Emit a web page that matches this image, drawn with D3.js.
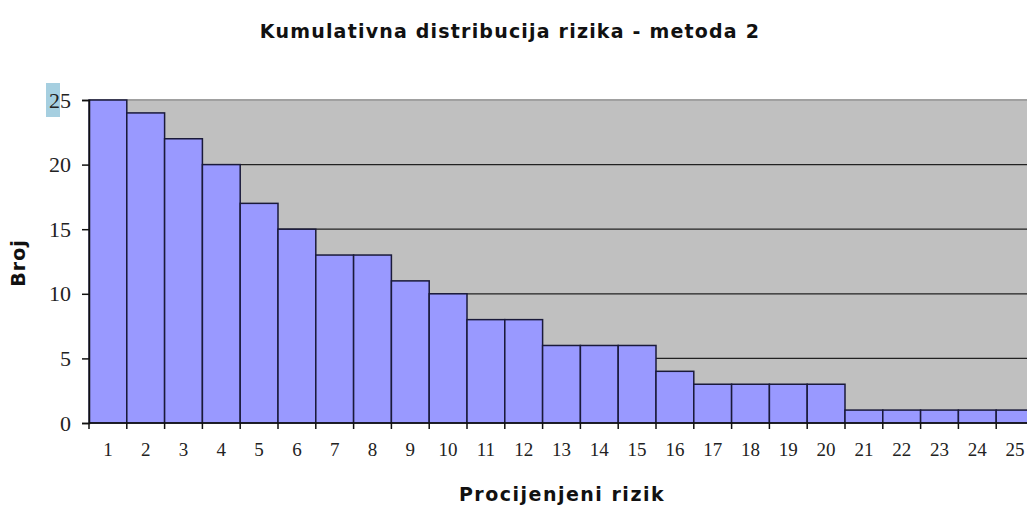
<!DOCTYPE html>
<html>
<head>
<meta charset="utf-8">
<script src="https://cdn.jsdelivr.net/npm/d3@7"></script>
<style>
  body { margin: 0; background: #fff; overflow: hidden; }
</style>
</head>
<body>
<script>
// Data
var categories = d3.range(1, 26).map(String);
var counts = [25, 24, 22, 20, 17, 15, 13, 13, 11, 10, 8, 8, 6, 6, 6, 4, 3, 3, 3, 3, 1, 1, 1, 1, 1];
var yTicks = [0, 5, 10, 15, 20, 25];

function drawChart(){

  var W = 1027, H = 506;
  var pLeft = 89, pRight = 1034, pTop = 100, pBottom = 423;

  var svg = d3.select("body").append("svg")
      .attr("width", W)
      .attr("height", H);

  var x = d3.scaleBand()
      .domain(categories)
      .range([pLeft, pRight])
      .padding(0);

  var y = d3.scaleLinear()
      .domain([0, 25])
      .range([pBottom, pTop]);

  // plot background
  svg.append("rect")
      .attr("x", pLeft).attr("y", pTop)
      .attr("width", pRight - pLeft).attr("height", pBottom - pTop)
      .attr("fill", "#c0c0c0");

  // top border of plot area (grey)
  svg.append("line")
      .attr("x1", pLeft).attr("x2", pRight)
      .attr("y1", y(25)).attr("y2", y(25))
      .attr("stroke", "#a0a0a0").attr("stroke-width", 2);

  // gridlines
  svg.selectAll(".grid")
      .data(yTicks.filter(function(d){ return d > 0 && d < 25; }))
      .enter().append("line")
      .attr("x1", pLeft).attr("x2", pRight)
      .attr("y1", function(d){ return y(d); })
      .attr("y2", function(d){ return y(d); })
      .attr("stroke", "#222").attr("stroke-width", 1.3);

  // bars
  svg.selectAll(".bar")
      .data(counts)
      .enter().append("rect")
      .attr("x", function(d, i){ return x(categories[i]); })
      .attr("y", function(d){ return y(d); })
      .attr("width", x.bandwidth())
      .attr("height", function(d){ return pBottom - y(d); })
      .attr("fill", "#9999ff")
      .attr("stroke", "#1a1a3a")
      .attr("stroke-width", 1.5);

  // highlight behind "25" label
  svg.append("rect")
      .attr("x", 46).attr("y", 83)
      .attr("width", 14).attr("height", 34)
      .attr("fill", "#a6cfe0");

  // y axis
  var yAxis = d3.axisLeft(y)
      .tickValues(yTicks)
      .tickSize(7)
      .tickPadding(11);

  var gy = svg.append("g")
      .attr("transform", "translate(" + pLeft + ",0)")
      .call(yAxis);
  gy.select(".domain").attr("stroke", "#111").attr("stroke-width", 1.5);
  gy.selectAll(".tick line").attr("stroke", "#111").attr("stroke-width", 1.5);
  gy.selectAll("text")
      .attr("font-family", "'Liberation Serif', 'DejaVu Serif', serif")
      .attr("font-size", 22)
      .attr("fill", "#222");

  // x axis
  var gx = svg.append("g")
      .attr("transform", "translate(0," + pBottom + ")");
  gx.append("line")
      .attr("x1", pLeft).attr("x2", pRight)
      .attr("stroke", "#111").attr("stroke-width", 1.5);
  gx.selectAll(".xt")
      .data(categories)
      .enter().append("line")
      .attr("x1", function(d){ return x(d); })
      .attr("x2", function(d){ return x(d); })
      .attr("y1", 0).attr("y2", 6)
      .attr("stroke", "#111").attr("stroke-width", 1.5);
  gx.selectAll(".xl")
      .data(categories)
      .enter().append("text")
      .attr("x", function(d){ return x(d) + x.bandwidth() / 2; })
      .attr("y", 33)
      .attr("text-anchor", "middle")
      .attr("font-family", "'Liberation Serif', 'DejaVu Serif', serif")
      .attr("font-size", 19)
      .attr("fill", "#222")
      .text(function(d){ return d; });

  // titles
  svg.append("text")
      .attr("x", 510).attr("y", 38)
      .attr("text-anchor", "middle")
      .attr("font-family", "'DejaVu Sans', sans-serif")
      .attr("font-weight", "bold")
      .attr("font-size", 19)
      .attr("letter-spacing", 1.2)
      .attr("fill", "#111")
      .text("Kumulativna distribucija rizika - metoda 2");

  svg.append("text")
      .attr("x", 562).attr("y", 501)
      .attr("text-anchor", "middle")
      .attr("font-family", "'DejaVu Sans', sans-serif")
      .attr("font-weight", "bold")
      .attr("font-size", 19)
      .attr("letter-spacing", 1.5)
      .attr("fill", "#111")
      .text("Procijenjeni rizik");

  svg.append("text")
      .attr("transform", "translate(25,263) rotate(-90)")
      .attr("text-anchor", "middle")
      .attr("font-family", "'DejaVu Sans', sans-serif")
      .attr("font-weight", "bold")
      .attr("font-size", 19)
      .attr("letter-spacing", 1)
      .attr("fill", "#111")
      .text("Broj");
}
drawChart();
</script>
</body>
</html>
